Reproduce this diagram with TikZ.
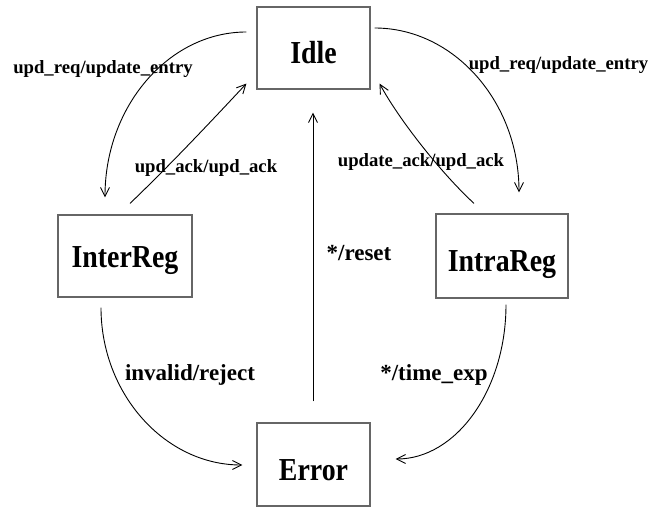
\documentclass[tikz,border=0pt]{standalone}
\usepackage{fontspec}
\setmainfont{Liberation Serif}
\usetikzlibrary{arrows.meta,calc}
\tikzset{
  state/.style={draw=black!60, line width=1.2pt, rectangle, inner sep=0pt,
    font=\fontsize{32}{32}\selectfont\bfseries, text height=32pt, text depth=0pt},
  lbl/.style={font=\fontsize{18.7}{19}\selectfont\bfseries, inner sep=0pt, anchor=base},
  lblbig/.style={font=\fontsize{23}{24}\selectfont\bfseries, inner sep=0pt, anchor=base},
  conn/.style={draw=black, line width=0.9pt, -{Straight Barb[length=9pt,width=9pt,line width=0.9pt]}}
}
\newcommand{\sq}[1]{\scalebox{0.87}[1]{#1}}
\begin{document}
\begin{tikzpicture}[x=1pt,y=-1pt]
\useasboundingbox[fill=white] (0,0) rectangle (662,508);
% states
\node[state, minimum width=113pt, minimum height=82pt] (idle) at (313.5,48) {\sq{Idle}};
\node[state, minimum width=134pt, minimum height=82pt] (inter) at (125,256) {\raisebox{5pt}{\sq{InterReg}}};
\node[state, minimum width=132pt, minimum height=84pt] (intra) at (502,256) {\sq{IntraReg}};
\node[state, minimum width=113pt, minimum height=83pt] (err) at (313.5,464.5) {\sq{Error}};
% connectors
\draw[conn] ($(idle.west)+(-10,-16)$) .. controls (169,32) and (105,106) .. ($(inter.north)+(-20,-17)$);
\draw[conn] ($(inter.north)+(5,-11)$) .. controls (165,170) and (205,128) .. ($(idle.south west)+(-10,-6)$);
\draw[conn] ($(idle.east)+(4,-20)$) .. controls (454,28) and (519,102) .. ($(intra.north)+(17,-21)$);
\draw[conn] ($(intra.north)+(-28,-10)$) .. controls (440,172) and (398,118) .. ($(idle.south east)+(9,-6)$);
\draw[conn] ($(err.north)+(-0.5,-21)$) -- ($(idle.south)+(-0.5,23)$);
\draw[conn] ($(inter.south)+(-24,10)$) .. controls (101,394) and (165,465) .. ($(err.west)+(-14,0.5)$);
\draw[conn] ($(intra.south)+(4,6)$) .. controls (506,390) and (456,459) .. ($(err.east)+(25,-5.5)$);
% labels
\node[lbl] (l1) at (103,74) {upd\_req/update\_entry};
\node[lbl] (l2) at (206,173) {upd\_ack/upd\_ack};
\node[lbl] (l3) at (558.5,70) {upd\_req/update\_entry};
\node[lbl] (l4) at (421,167) {update\_ack/upd\_ack};
\node[lblbig] (l5) at (359,261) {*/reset};
\node[lblbig] (l6) at (190,380) {invalid/reject};
\node[lblbig] (l7) at (434,380) {*/time\_exp};
\end{tikzpicture}
\end{document}
